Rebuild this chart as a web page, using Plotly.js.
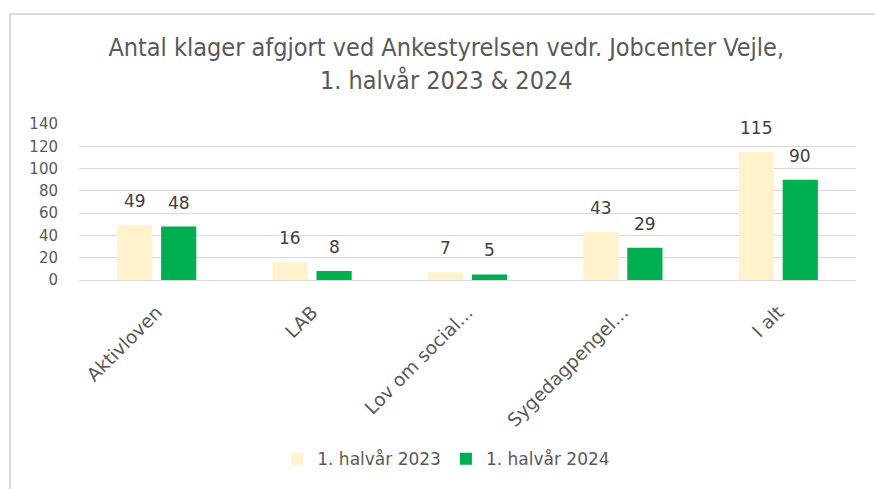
<!DOCTYPE html>
<html>
<head>
<meta charset="utf-8">
<script src="https://cdn.plot.ly/plotly-3.0.1.min.js"></script>
<style>
  html, body { margin: 0; padding: 0; background: #ffffff; }
  #wrap { position: relative; width: 875px; height: 489px; overflow: hidden; }
  #chart { width: 875px; height: 489px; }
  #frame { position: absolute; left: 9px; top: 13px; right: -10px; bottom: -10px;
           border-left: 2px solid #dcdcdc; border-top: 2px solid #dcdcdc; pointer-events: none; }
</style>
</head>
<body>
<div id="wrap">
  <div id="chart"></div>
  <div id="frame"></div>
</div>
<script>
const categories = ["Aktivloven", "LAB", "Lov om social...", "Sygedagpengel...", "I alt"];
const values2023 = [49, 16, 7, 43, 115];
const values2024 = [48, 8, 5, 29, 90];
const seriesNames = ["1. halvår 2023", "1. halvår 2024"];
const yTicks = [0, 20, 40, 60, 80, 100, 120, 140];

const BARGAP = 0.434;
const labelFont = { family: "DejaVu Sans, Verdana, sans-serif", size: 17, color: "#404040" };

const traces = [
  {
    type: "bar", name: seriesNames[0], x: categories, y: values2023,
    marker: { color: "#FFF2CC" }, hoverinfo: "skip"
  },
  {
    type: "bar", name: seriesNames[1], x: categories, y: values2024,
    marker: { color: "#00B050" }, hoverinfo: "skip"
  }
];

// data labels above each bar, positioned through the category axis
const slotOffset = (1 - BARGAP) / 4;
const annotations = [];
[values2023, values2024].forEach(function (vals, s) {
  vals.forEach(function (v, i) {
    annotations.push({
      xref: "x", yref: "y",
      x: i + (s === 0 ? -slotOffset : slotOffset),
      y: v,
      text: String(v),
      showarrow: false,
      xanchor: "center", yanchor: "bottom",
      yshift: 12,
      font: labelFont
    });
  });
});

const layout = {
  width: 875, height: 489,
  paper_bgcolor: "#ffffff", plot_bgcolor: "#ffffff",
  margin: { l: 79, r: 19, t: 124, b: 209 },
  title: {
    text: "Antal klager afgjort ved Ankestyrelsen vedr. Jobcenter Vejle,<br>1. halvår 2023 & 2024",
    font: { family: "DejaVu Sans Condensed, Liberation Sans Narrow, sans-serif", size: 25, color: "#595959" },
    x: 0.51, xref: "container", xanchor: "center",
    y: 0.885, yref: "container", yanchor: "top"
  },
  barmode: "group",
  bargap: BARGAP,
  bargroupgap: 0.2,
  xaxis: {
    type: "category",
    tickangle: -45,
    tickfont: { family: "DejaVu Sans, Verdana, sans-serif", size: 18.5, color: "#595959" },
    showgrid: false, showline: false, ticks: "", zeroline: false,
    ticklabelstandoff: 17
  },
  yaxis: {
    range: [0, 140],
    tickvals: yTicks,
    ticktext: yTicks.map(String),
    tickfont: { family: "DejaVu Sans, Verdana, sans-serif", size: 15, color: "#595959" },
    showgrid: true, gridcolor: "#d9d9d9", gridwidth: 1,
    zeroline: true, zerolinecolor: "#d9d9d9", zerolinewidth: 1,
    showline: false, ticks: "", ticklabelstandoff: 20
  },
  annotations: annotations,
  showlegend: true,
  legend: {
    orientation: "h",
    x: 0.51, xref: "container", xanchor: "center",
    y: 0.061, yref: "container", yanchor: "middle",
    font: { family: "DejaVu Sans, Verdana, sans-serif", size: 17, color: "#595959" },
    itemwidth: 30
  }
};

Plotly.newPlot("chart", traces, layout, { displayModeBar: false, staticPlot: true });
</script>
</body>
</html>
